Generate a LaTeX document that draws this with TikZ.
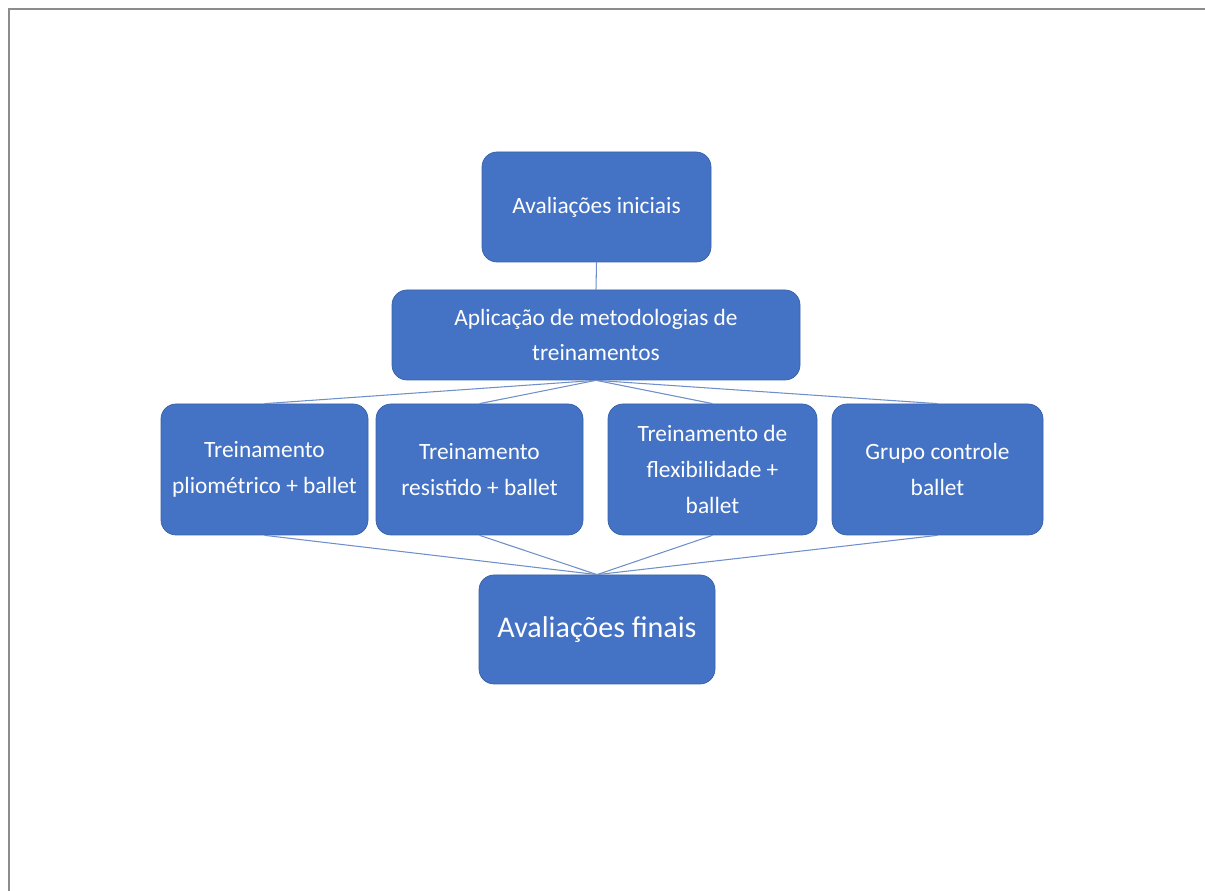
\documentclass[tikz,border=0pt]{standalone}
\usepackage{fontspec}
\setmainfont{Carlito}
\definecolor{caixaazul}{HTML}{4472C4}
\definecolor{linhaazul}{HTML}{6F8FCB}
\tikzset{
  etapa/.style={rectangle, rounded corners=0.3cm, fill=caixaazul, draw=caixaazul!85!black, line width=0.4pt,
    text=white, align=center, inner sep=0pt,
    font=\fontsize{13.3}{20.4}\selectfont},
  ligacao/.style={draw=linhaazul, line width=0.6pt}
}
\begin{document}
\begin{tikzpicture}
  \useasboundingbox (0,0) rectangle (24.1,17.82);
  % slide border (top and left edges only)
  \draw[gray!110!black, line width=1.1pt] (0.18,0) -- (0.18,17.64) -- (24.1,17.64);

  % Top: initial tests and training methods
  \node[etapa, minimum width=4.58cm, minimum height=2.2cm] (inicial) at (11.93,13.68) {Avaliações iniciais};
  \node[etapa, minimum width=8.16cm, minimum height=1.8cm] (metodo) at (11.92,11.12) {Aplicação de metodologias de\\treinamentos};

  % Middle row: the four groups
  \node[etapa, minimum width=4.14cm, minimum height=2.62cm] (plio) at (5.29,8.43) {Treinamento\\pliométrico + ballet};
  \node[etapa, minimum width=4.14cm, minimum height=2.62cm] (resist) at (9.59,8.43) {Treinamento\\resistido + ballet};
  \node[etapa, minimum width=4.18cm, minimum height=2.62cm] (flex) at (14.25,8.43) {Treinamento de\\flexibilidade +\\ballet};
  \node[etapa, minimum width=4.22cm, minimum height=2.62cm] (controle) at (18.75,8.43) {Grupo controle\\ballet};

  % Bottom: final tests
  \node[etapa, minimum width=4.72cm, minimum height=2.18cm, font=\fontsize{17.1}{20.4}\selectfont] (final) at (11.94,5.23) {Avaliações finais};

  \draw[ligacao] (inicial.south) -- (metodo.north);
  \foreach \g in {plio,resist,flex,controle} {
    \draw[ligacao] (metodo.south) -- (\g.north);
    \draw[ligacao] (\g.south) -- (final.north);
  }
\end{tikzpicture}
\end{document}
